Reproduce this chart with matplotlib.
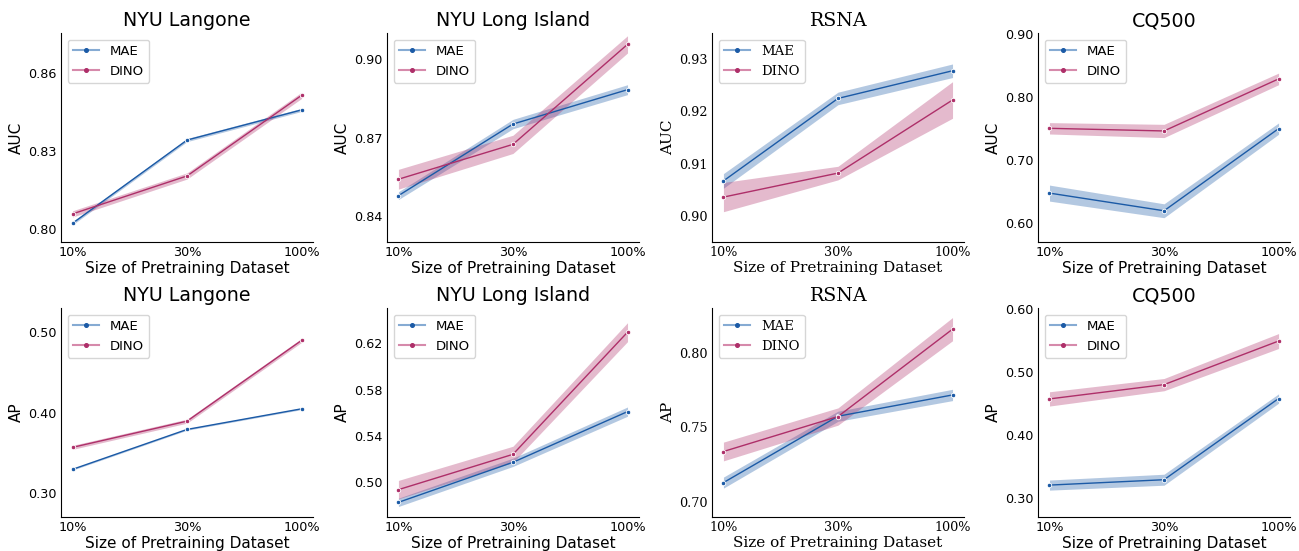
import matplotlib
matplotlib.use('Agg')
import matplotlib.pyplot as plt
from matplotlib.lines import Line2D
import numpy as np

# Data
sizes = ['10%', '30%', '100%']
titles = ['NYU Langone', 'NYU Long Island', 'RSNA', 'CQ500']

# AUC (row 1)
auc_mae = [[0.8022, 0.8342, 0.8458],
           [0.8477, 0.8752, 0.8884],
           [0.9067, 0.9225, 0.9278],
           [0.6475, 0.6195, 0.7497]]
auc_mae_err = [[0.0006, 0.0006, 0.0006],
               [0.0015, 0.0018, 0.0019],
               [0.0014, 0.0012, 0.0013],
               [0.0127, 0.0110, 0.0090]]
auc_dino = [[0.8058, 0.8204, 0.8514],
            [0.8540, 0.8674, 0.9058],
            [0.9036, 0.9082, 0.9222],
            [0.7502, 0.7460, 0.8285]]
auc_dino_err = [[0.0012, 0.0012, 0.0012],
                [0.0038, 0.0035, 0.0033],
                [0.0028, 0.0013, 0.0035],
                [0.0090, 0.0105, 0.0092]]

# AP (row 2)
ap_mae = [[0.3298, 0.3794, 0.4050],
          [0.4824, 0.5171, 0.5610],
          [0.7128, 0.7574, 0.7717],
          [0.3210, 0.3295, 0.4580]]
ap_mae_err = [[0.0010, 0.0010, 0.0010],
              [0.0036, 0.0036, 0.0040],
              [0.0037, 0.0034, 0.0038],
              [0.0080, 0.0087, 0.0074]]
ap_dino = [[0.3571, 0.3897, 0.4900],
           [0.4934, 0.5240, 0.6298],
           [0.7337, 0.7572, 0.8159],
           [0.4574, 0.4800, 0.5490]]
ap_dino_err = [[0.0025, 0.0025, 0.0025],
               [0.0080, 0.0070, 0.0082],
               [0.0063, 0.0058, 0.0078],
               [0.0113, 0.0097, 0.0118]]

auc_ylim = [(0.795, 0.8753), (0.8299, 0.9101), (0.895, 0.935), (0.570, 0.901)]
auc_ticks = [[0.80, 0.83, 0.86], [0.84, 0.87, 0.90],
             [0.90, 0.91, 0.92, 0.93], [0.60, 0.70, 0.80, 0.90]]
ap_ylim = [(0.2706, 0.530), (0.4697, 0.6506), (0.6897, 0.830), (0.2705, 0.601)]
ap_ticks = [[0.30, 0.40, 0.50], [0.50, 0.54, 0.58, 0.62],
            [0.70, 0.75, 0.80], [0.30, 0.40, 0.50, 0.60]]

blue = '#1b5aa6'
pink = '#ae2f69'

fig = plt.figure(figsize=(12.99, 5.51), dpi=100)

lefts = [0.0470, 0.2979, 0.5481, 0.7991]
bottoms = [0.5608, 0.0617]
w, h = 0.194, 0.379

x = np.arange(len(sizes))

rows = [(auc_mae, auc_mae_err, auc_dino, auc_dino_err, auc_ylim, auc_ticks, 'AUC'),
        (ap_mae, ap_mae_err, ap_dino, ap_dino_err, ap_ylim, ap_ticks, 'AP')]

for r, (mae, mae_err, dino, dino_err, ylims, yticks, ylab) in enumerate(rows):
    for c in range(4):
        ax = fig.add_axes([lefts[c], bottoms[r], w, h])
        family = 'DejaVu Serif' if titles[c] == 'RSNA' else 'DejaVu Sans'

        for vals, errs, col in [(mae[c], mae_err[c], blue), (dino[c], dino_err[c], pink)]:
            v = np.array(vals)
            e = np.array(errs)
            ax.fill_between(x, v - e, v + e, color=col, alpha=0.33, linewidth=0)
            ax.plot(x, v, color=col, linewidth=1.0, marker='o', markersize=3.2,
                    markeredgecolor='white', markeredgewidth=0.6)

        ax.set_xlim(-0.1, 2.1)
        ax.set_ylim(*ylims[c])
        ax.set_xticks(x)
        ax.set_xticklabels(sizes, family=family, fontsize=9.2)
        ax.set_yticks(yticks[c])
        ax.set_yticklabels(['%.2f' % t for t in yticks[c]], family=family, fontsize=9.2)
        ax.tick_params(length=0, pad=3)
        ax.spines['top'].set_visible(False)
        ax.spines['right'].set_visible(False)
        ax.set_title(titles[c], family=family, fontsize=13.7, pad=5)
        ax.set_xlabel('Size of Pretraining Dataset', family=family, fontsize=11, labelpad=1)
        ax.set_ylabel(ylab, family=family, fontsize=11, labelpad=3)

        handles = [Line2D([], [], color='#86abd3', linewidth=1.5, marker='o', markersize=2.6,
                          markerfacecolor=blue, markeredgecolor=blue),
                   Line2D([], [], color='#d68aab', linewidth=1.5, marker='o', markersize=2.6,
                          markerfacecolor=pink, markeredgecolor=pink)]
        ax.legend(handles, ['MAE', 'DINO'], loc='upper left', prop={'family': family, 'size': 9.5},
                  handlelength=2.0, borderaxespad=0.5, framealpha=0.8)

fig.savefig('out.png', dpi=100)
